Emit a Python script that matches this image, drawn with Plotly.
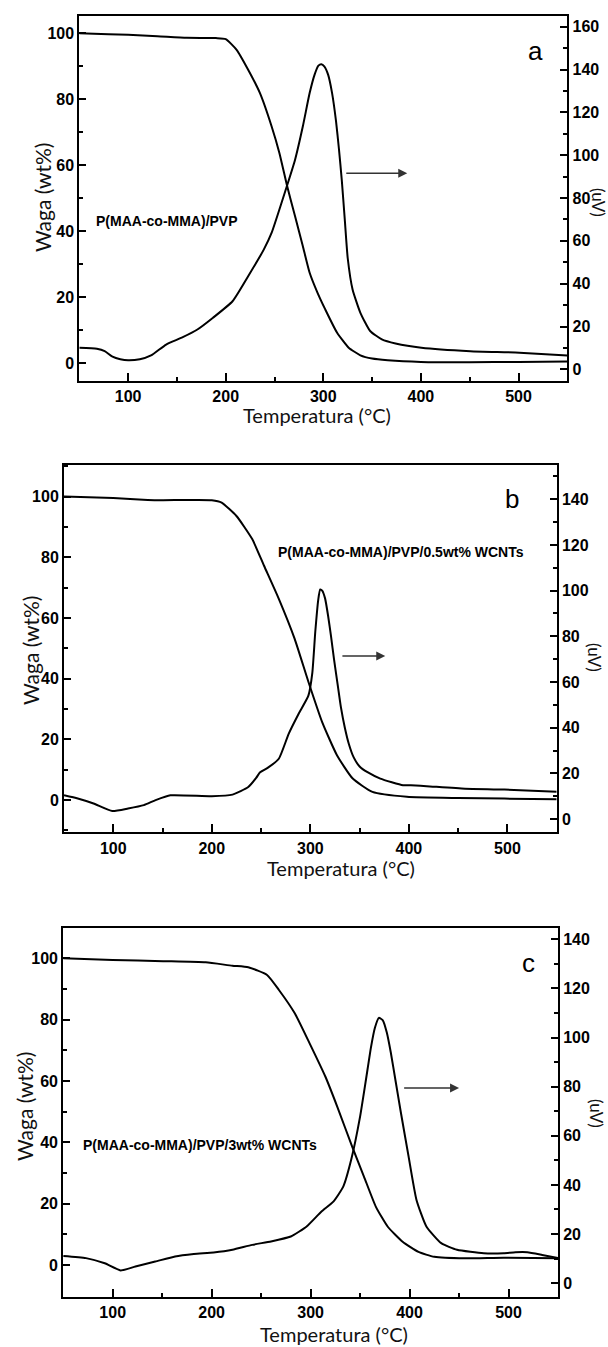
import plotly.graph_objects as go

W, H = 608, 1347

# ---------------- Panel a ----------------
a_tga_t = [50, 80, 100, 130, 160, 190, 200, 211, 223, 235, 247, 255, 263, 271, 279, 286, 294, 302, 314, 326, 338, 350, 366, 400, 450, 500, 550]
a_tga_w = [100, 99.7, 99.5, 99.1, 98.6, 98.5, 98.2, 95.0, 88.9, 81.9, 71.8, 63.7, 53.6, 44.6, 35.5, 27.4, 21.4, 16.3, 9.3, 4.7, 2.4, 1.4, 0.9, 0.4, 0.3, 0.4, 0.5]
a_dta_t = [50, 68, 76, 84, 92, 100, 112, 123.5, 139, 155, 171, 187, 207, 223, 239, 247, 262, 271, 279, 286, 291, 295, 298, 301, 305, 309, 313, 316, 319, 322, 325, 330, 338, 348, 360, 374, 400.5, 450.6, 501, 550]
a_dta_v = [10.1, 9.6, 8.5, 5.9, 4.7, 4.2, 4.7, 6.5, 11.6, 14.8, 18.6, 24.1, 31.8, 43.5, 55.9, 63.7, 84.6, 97.8, 113.4, 129, 137.5, 141.8, 142.5, 141.5, 137.5, 129, 116, 103, 88, 70, 52, 37.3, 26.4, 17.9, 14, 12.1, 10.1, 8.5, 7.8, 6.5]

# ---------------- Panel b ----------------
b_tga_t = [50, 100, 135, 150, 200, 210, 225, 241, 253, 268, 284, 298, 312, 327, 343, 363, 398, 450, 497, 550]
b_tga_w = [100, 99.5, 98.9, 98.8, 98.8, 98.0, 93.6, 86.0, 77.2, 66.3, 53.2, 39.0, 25.7, 14.8, 7.1, 2.7, 1.1, 0.7, 0.5, 0.3]
b_dta_t = [50, 64, 80, 99, 115, 131, 143, 158, 200, 221, 237, 245, 249, 257, 268, 278, 288, 298, 302, 305, 308, 310, 312, 315, 318, 321, 324, 328, 331, 335, 339, 344, 350, 358, 371, 394, 402, 418, 457, 497, 550]
b_dta_v = [10.4, 9.0, 6.8, 3.5, 4.6, 6.1, 8.3, 10.4, 10.0, 10.7, 14.0, 18.0, 20.5, 22.5, 26.4, 37.3, 46.0, 54.0, 64.0, 82.0, 96.0, 100.5, 100.0, 96.5, 89.0, 80.0, 70.0, 58.0, 49.0, 40.0, 33.0, 27.0, 23.0, 20.5, 17.7, 14.8, 14.8, 14.4, 13.3, 12.9, 11.9]

# ---------------- Panel c ----------------
c_tga_t = [50, 100, 151, 194, 221, 237, 256, 268, 284, 299, 315, 327, 342, 354, 366, 378, 393, 409, 425, 456, 495, 550]
c_tga_w = [100, 99.5, 99.1, 98.7, 97.6, 97.1, 94.6, 89.7, 82.1, 72.3, 61.4, 51.6, 38.6, 28.8, 19.0, 12.5, 7.6, 4.3, 2.7, 2.2, 2.4, 2.2]
c_dta_t = [50, 73, 92, 108, 123, 143, 163, 182, 202, 221, 241, 260, 280, 296, 311, 323, 333, 341, 350, 356, 361, 365, 369, 373, 377, 381, 386, 391, 399, 407, 417, 432, 448, 475, 495, 507, 519, 534, 550]
c_dta_v = [11.1, 10.2, 8.1, 5.2, 6.8, 8.8, 10.9, 11.9, 12.5, 13.6, 15.6, 17.0, 19.0, 23.1, 29.2, 33.2, 39.3, 50.2, 67.8, 83.0, 96.0, 104.0, 108.0, 107.0, 102.0, 94.0, 82.0, 70.0, 51.6, 33.9, 23.1, 16.3, 13.6, 12.2, 12.2, 12.6, 12.6, 11.5, 10.2]

sample_labels = ["P(MAA-co-MMA)/PVP", "P(MAA-co-MMA)/PVP/0.5wt% WCNTs", "P(MAA-co-MMA)/PVP/3wt% WCNTs"]
panel_letters = ["a", "b", "c"]
x_title = "Temperatura (°C)"
y_title = "Waga (wt%)"
y2_title = "(uV)"

# layout geometry in pixels (left, right, top, bottom)
boxes = [(79.3, 567.3, 16, 380.7), (64, 556.7, 465, 832.3), (63.2, 558, 927.7, 1296.7)]
left_ranges = [[-5.3, 105.2], [-10.6, 110.4], [-10.3, 110]]
right_ranges = [[-5.3, 165], [-5.8, 155], [-5.5, 144.7]]
label_pos = [(140, 43), (392, 81.6), (188, 39.1)]
letter_pos = [(517, 94.5), (505, 99.1), (520, 98.4)]
arrow_pos = [(322, 386, 91.6), (331, 376, 71.4), (393, 450, 79.4)]
ytitle_px = [(42, 198), (30, 651), (24, 1107)]
xtitle_px = [(317, 415), (341, 868), (334, 1334)]
y2title_px = [(599, 202), (595, 657), (597, 1113)]

tga = [(a_tga_t, a_tga_w), (b_tga_t, b_tga_w), (c_tga_t, c_tga_w)]
dta = [(a_dta_t, a_dta_v), (b_dta_t, b_dta_v), (c_dta_t, c_dta_v)]

fig = go.Figure()
tick_font = dict(family="Liberation Sans, Arial", size=16, color="black", weight="bold")
title_font = dict(family="Lato, Open Sans", size=21, color="#111")
line = dict(color="black", width=2, shape="spline", smoothing=0.5)

annotations = []
layout = {}
for i in range(3):
    l, r, t, b = boxes[i]
    xa = "xaxis" if i == 0 else f"xaxis{i+1}"
    ya = "yaxis" if i == 0 else f"yaxis{2*i+1}"
    ya2 = f"yaxis{2*i+2}"
    xref = "x" if i == 0 else f"x{i+1}"
    yref = "y" if i == 0 else f"y{2*i+1}"
    y2ref = f"y{2*i+2}"

    layout[xa] = dict(domain=[l / W, r / W], range=[50, 550], anchor=yref,
                      showline=True, linewidth=2, linecolor="black", mirror=True,
                      ticks="inside", ticklen=8, tickwidth=2, tickcolor="black",
                      dtick=100, tick0=0, tickfont=tick_font, showgrid=False, zeroline=False,
                      minor=dict(ticks="inside", ticklen=4, tickwidth=2, tickcolor="black", dtick=50, showgrid=False),
                      automargin=False)
    layout[ya] = dict(domain=[1 - b / H, 1 - t / H], range=left_ranges[i], anchor=xref,
                      showline=True, linewidth=2, linecolor="black",
                      ticks="inside", ticklen=7, tickwidth=2, tickcolor="black",
                      dtick=20, tick0=0, tickfont=tick_font, showgrid=False, zeroline=False,
                      minor=dict(ticks="inside", ticklen=4, tickwidth=2, tickcolor="black", dtick=10, showgrid=False),
                      automargin=False)
    layout[ya2] = dict(range=right_ranges[i], overlaying=yref, side="right", anchor=xref,
                       showline=True, linewidth=2, linecolor="black",
                       ticks="inside", ticklen=7, tickwidth=2, tickcolor="black",
                       dtick=20, tick0=0, tickfont=tick_font, showgrid=False, zeroline=False,
                       minor=dict(ticks="inside", ticklen=4, tickwidth=2, tickcolor="black", dtick=10, showgrid=False),
                       automargin=False)

    fig.add_trace(go.Scatter(x=tga[i][0], y=tga[i][1], mode="lines", line=line,
                             xaxis=xref, yaxis=yref, showlegend=False, name="TGA"))
    fig.add_trace(go.Scatter(x=dta[i][0], y=dta[i][1], mode="lines", line=line,
                             xaxis=xref, yaxis=y2ref, showlegend=False, name="DTA"))

    annotations.append(dict(x=label_pos[i][0], y=label_pos[i][1], xref=xref, yref=yref,
                            text=sample_labels[i], showarrow=False,
                            font=dict(family="Liberation Sans, Arial", size=14, color="black", weight="bold")))
    annotations.append(dict(x=letter_pos[i][0], y=letter_pos[i][1], xref=xref, yref=yref,
                            text=panel_letters[i], showarrow=False,
                            font=dict(family="Liberation Sans, Arial", size=26, color="black")))
    x0, x1, yv = arrow_pos[i]
    annotations.append(dict(x=x1, y=yv, xref=xref, yref=y2ref, ax=x0, ay=yv, axref=xref, ayref=y2ref,
                            text="", showarrow=True, arrowhead=2, arrowsize=1.2, arrowwidth=1.5,
                            arrowcolor="#333"))
    annotations.append(dict(x=ytitle_px[i][0] / W, y=1 - ytitle_px[i][1] / H, xref="paper", yref="paper",
                            text=y_title, showarrow=False, textangle=-90, font=title_font,
                            xanchor="center", yanchor="middle"))
    annotations.append(dict(x=xtitle_px[i][0] / W, y=1 - xtitle_px[i][1] / H, xref="paper", yref="paper",
                            text=x_title, showarrow=False, font=dict(family="Lato, Open Sans", size=20, color="#111"),
                            xanchor="center", yanchor="middle"))
    annotations.append(dict(x=y2title_px[i][0] / W, y=1 - y2title_px[i][1] / H, xref="paper", yref="paper",
                            text=y2_title, showarrow=False, textangle=90,
                            font=dict(family="Lato, Open Sans", size=17, color="#111"),
                            xanchor="center", yanchor="middle"))

fig.update_layout(width=W, height=H, margin=dict(l=0, r=0, t=0, b=0),
                  paper_bgcolor="white", plot_bgcolor="white",
                  annotations=annotations, **layout)

fig.write_html("out.html", config={"displayModeBar": False},
               post_script="document.body.style.margin='0';document.body.style.overflow='hidden';")
